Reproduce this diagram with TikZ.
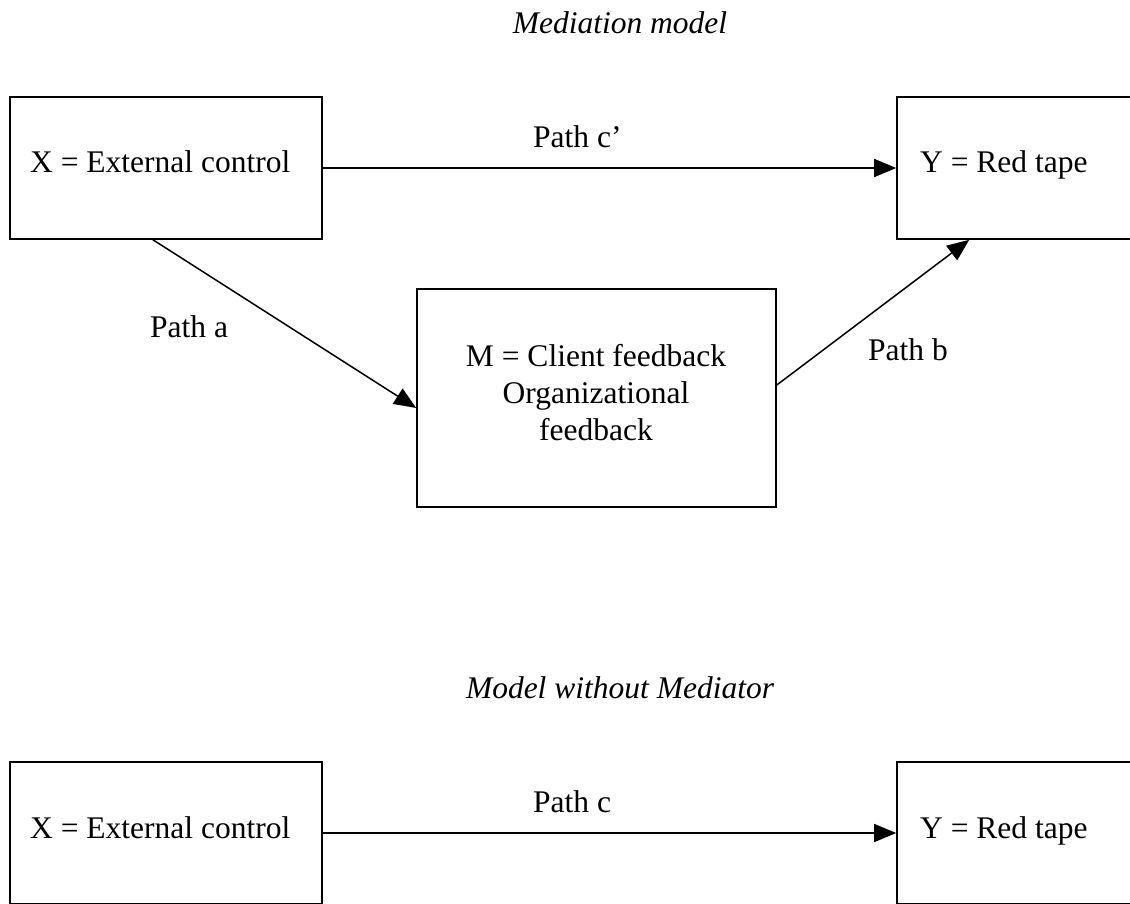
\documentclass[tikz,border=0pt]{standalone}
\usepackage{fontspec}
\setmainfont{Liberation Serif}
\usetikzlibrary{arrows.meta}
\begin{document}
\begin{tikzpicture}[x=1pt,y=-1pt,
  box/.style={draw=black,line width=1.6pt,rectangle,inner sep=0pt},
  txt/.style={inner sep=0pt,anchor=base west,font=\fontsize{31.5}{37}\selectfont},
  ttl/.style={inner sep=0pt,anchor=base,font=\fontsize{31.5}{37}\selectfont\itshape},
  conn/.style={line width=1.5pt,-{Triangle[length=22pt,width=18pt]}}]
\clip (0,0) rectangle (1130,903);
% top model
\node[ttl] (t1) at (620,33) {Mediation model};
\node[box,minimum width=312pt,minimum height=142pt] (XT) at (166,168) {};
\node[box,minimum width=243pt,minimum height=142pt] (YT) at (1018.5,168) {};
\node[box,minimum width=359pt,minimum height=218pt] (M) at (596.5,398) {};
\node[txt] (xt) at (30,172) {X = External control};
\node[txt] (yt) at (920,172) {Y = Red tape};
\node[inner sep=0pt,align=center,font=\fontsize{31.5}{37}\selectfont,anchor=base] (mt) at (596,440) {M = Client feedback\\Organizational\\feedback};
\node[txt] (pc1) at (533,147) {Path c’};
\node[txt] (pa) at (150,337) {Path a};
\node[txt] (pb) at (868,360) {Path b};
\draw[conn] (XT.east) -- (YT.west);
\draw[conn] ([xshift=-13pt]XT.south) -- ([yshift=-10pt]M.west);
\draw[conn] ([yshift=13pt]M.east) -- ([xshift=73pt]YT.south west);
% bottom model
\node[ttl] (t2) at (620,698) {Model without Mediator};
\node[box,minimum width=312pt,minimum height=142pt] (XB) at (166,833) {};
\node[box,minimum width=243pt,minimum height=142pt] (YB) at (1018.5,833) {};
\node[txt] (xb) at (30,838) {X = External control};
\node[txt] (yb) at (920,838) {Y = Red tape};
\node[txt] (pc) at (533,812) {Path c};
\draw[conn] (XB.east) -- (YB.west);
\end{tikzpicture}
\end{document}
